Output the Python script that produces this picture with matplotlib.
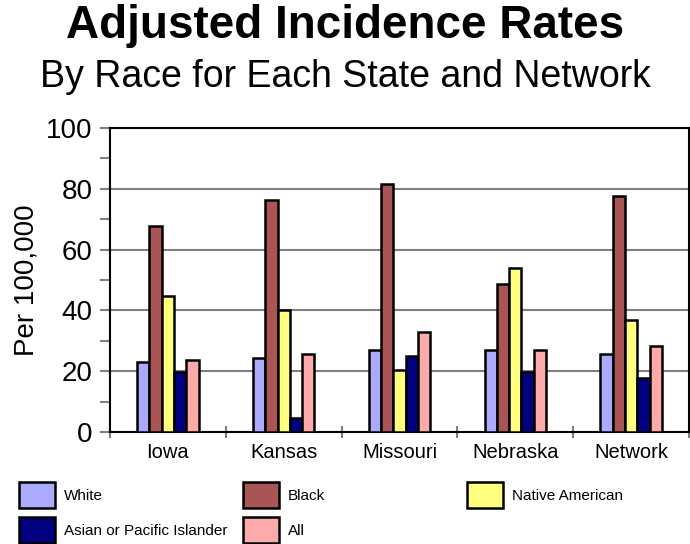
import matplotlib
matplotlib.use("Agg")
import matplotlib.pyplot as plt
from matplotlib.patches import Rectangle
import numpy as np

plt.rcParams['font.family'] = ['Liberation Sans', 'DejaVu Sans']

categories = ["Iowa", "Kansas", "Missouri", "Nebraska", "Network"]
series_names = ["White", "Black", "Native American", "Asian or Pacific Islander", "All"]
white = [23.1, 24.4, 27.0, 27.0, 25.7]
black = [67.8, 76.3, 81.7, 48.7, 77.6]
native = [44.8, 40.1, 20.4, 54.0, 36.8]
asian = [19.8, 4.7, 25.1, 19.8, 17.9]
all_races = [23.8, 25.7, 33.0, 27.0, 28.3]
colors = ["#AAAAFF", "#AA5555", "#FFFF80", "#000080", "#FFAAAA"]
yticks = [0, 20, 40, 60, 80, 100]

series = [white, black, native, asian, all_races]

fig = plt.figure(figsize=(6.9, 5.44), dpi=100)
ax = fig.add_axes([110/690, 1-432/544, (689-110)/690, (432-128)/544])

x = np.arange(len(categories))
bw = 0.106
for i, (vals, c) in enumerate(zip(series, colors)):
    ax.bar(x + (i - 2) * bw, vals, width=bw, color=c, edgecolor='black', linewidth=1.8, zorder=3)

ax.set_xlim(-0.5, len(categories) - 0.5)
ax.set_ylim(0, 100)
ax.set_yticks(yticks)
ax.set_yticklabels([str(t) for t in yticks], fontsize=20)
ax.set_yticks(np.arange(10, 100, 20), minor=True)
ax.yaxis.grid(True, which='major', color='#808080', linewidth=1.5, zorder=0)
ax.tick_params(axis='y', which='both', direction='out', length=7.5, width=1.5, color='#808080', pad=5)
ax.set_xticks(x)
ax.set_xticklabels(categories, fontsize=14.5)
ax.tick_params(axis='x', which='major', length=0, pad=8)
ax.set_xticks(np.arange(-0.5, len(categories), 1.0), minor=True)
ax.tick_params(axis='x', which='minor', direction='inout', length=8, width=1.5, color='#808080')
for s in ax.spines.values():
    s.set_linewidth(1.5)
    s.set_color('black')
ax.set_ylabel("Per 100,000", fontsize=20, labelpad=5)

fig.text(0.5, 1-38/544, "Adjusted Incidence Rates", ha='center', va='baseline', fontsize=33, fontweight='bold')
fig.text(0.5, 1-87/544, "By Race for Each State and Network", ha='center', va='baseline', fontsize=27)

# legend
positions = [(19, 482), (243, 482), (467, 482), (19, 517), (243, 517)]
for (px, py), name, c in zip(positions, series_names, colors):
    fig.patches.append(Rectangle((px/690, 1-(py+26)/544), 36/690, 26/544, transform=fig.transFigure,
                                 facecolor=c, edgecolor='black', linewidth=1.8))
    fig.text((px+45)/690, 1-(py+14)/544, name, ha='left', va='center', fontsize=11)

fig.savefig("out.png", dpi=100)
